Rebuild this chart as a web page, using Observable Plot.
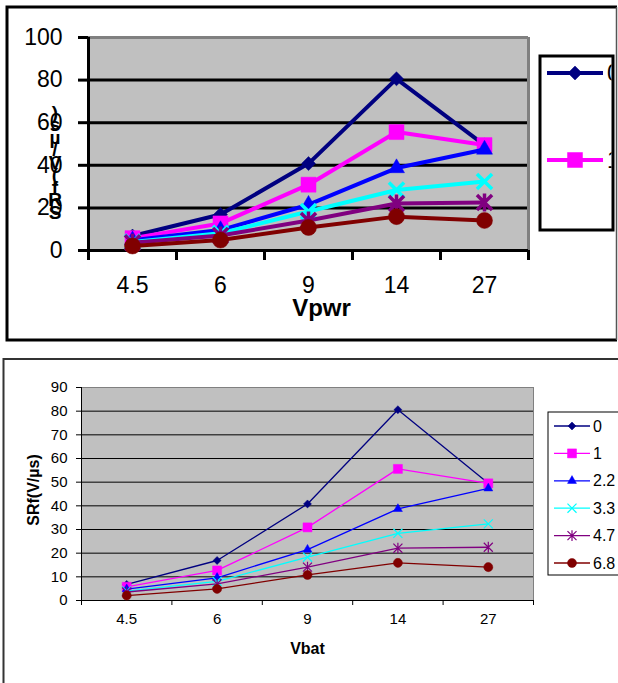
<!DOCTYPE html>
<html><head><meta charset="utf-8">
<script src="https://cdn.jsdelivr.net/npm/d3@7"></script>
<script src="https://cdn.jsdelivr.net/npm/@observablehq/plot@0.6"></script>
<style>
html,body{margin:0;padding:0;background:#fff;}
#wrap{position:relative;width:618px;height:683px;overflow:hidden;background:#fff;font-family:Arial,"Liberation Sans",sans-serif;}
#wrap svg{position:absolute;left:0;background:transparent;overflow:visible;}
</style></head><body><div id="wrap"></div>
<script>
// ---- data ----
const categories = ["4.5", "6", "9", "14", "27"];
const seriesNames = ["0", "1", "2.2", "3.3", "4.7", "6.8"];
const sr0  = [6.8, 16.9, 40.8, 80.6, 49.5];
const sr1  = [5.8, 12.7, 30.9, 55.6, 49.5];
const sr22 = [4.8, 9.6, 21.5, 38.7, 47.4];
const sr33 = [4.0, 8.1, 18.3, 28.4, 32.4];
const sr47 = [3.6, 7.0, 14.1, 22.1, 22.5];
const sr68 = [2.1, 4.9, 10.8, 15.9, 14.1];
const topYTicks = [0, 20, 40, 60, 80, 100];
const bottomYTicks = [0, 10, 20, 30, 40, 50, 60, 70, 80, 90];
const topXTitle = "Vpwr";
const bottomXTitle = "Vbat";
const yTitle = "SRf(V/µs)";

const seriesValues = [sr0, sr1, sr22, sr33, sr47, sr68];
const colors = ["#000080", "#FF00FF", "#0000FF", "#00FFFF", "#800080", "#800000"];
const rows = seriesNames.flatMap((s, si) => seriesValues[si].map((v, i) => ({series: s, si, xi: i, v})));

const asterisk = {draw(ctx, size) {
  const r = Math.sqrt(size - Math.min(size / 6, 1.7)) * 0.6189;
  ctx.moveTo(-r, -r); ctx.lineTo(r, r);
  ctx.moveTo(-r, r); ctx.lineTo(r, -r);
  ctx.moveTo(0, -r * 1.2); ctx.lineTo(0, r * 1.2);
}};
const symbolTypes = [d3.symbolDiamond2, d3.symbolSquare, d3.symbolTriangle, d3.symbolTimes, asterisk, d3.symbolCircle];
const filled = [true, true, true, false, false, true];
const FONT = "Arial, 'Liberation Sans', sans-serif";

function chart(c) {
  const frameW = 618 - c.ml - c.mr, frameH = c.height - c.mt - c.mb;
  const yMax = c.yTicks[c.yTicks.length - 1];
  const bounds = categories.map((_, i) => i - 0.5).concat([categories.length - 0.5]);
  const marks = [
    Plot.frame({fill: "#c0c0c0", stroke: "none"}),
    Plot.ruleY(c.yTicks.slice(1, -1), {y: d => d, stroke: "black", strokeWidth: c.gridW}),
    Plot.ruleY([yMax], {y: d => d, stroke: "#808080", strokeWidth: c.gridW}),
    Plot.ruleX([categories.length - 0.5], {x: d => d, stroke: "#808080", strokeWidth: c.gridW}),
    Plot.ruleX([-0.5], {x: d => d, stroke: "black", strokeWidth: c.axisW}),
    Plot.ruleY([0], {y: d => d, stroke: "black", strokeWidth: c.axisW}),
    Plot.ruleY(c.yTicks, {y: d => d, stroke: "black", strokeWidth: c.axisW, insetRight: frameW - c.tick, dx: -c.tick}),
    Plot.ruleX(bounds, {x: d => d, stroke: "black", strokeWidth: c.axisW, insetTop: frameH - c.tick, dy: c.tick}),
    Plot.text(c.yTicks, {y: d => d, text: d => String(d), frameAnchor: "left", textAnchor: "end", dx: -(c.tick + c.pad), fontSize: c.fs, fill: "black"}),
    Plot.text(categories, {x: (d, i) => i, text: d => d, frameAnchor: "bottom", dy: c.xlDy, fontSize: c.fs, fill: "black"}),
    Plot.text([c.xTitle], {text: d => d, frameAnchor: "bottom", dy: c.xtDy, dx: c.xtDx, fontSize: c.tfs, fontWeight: "bold", fill: "black"})
  ];
  seriesNames.forEach((s, si) => {
    const d = rows.filter(r => r.si === si);
    marks.push(Plot.line(d, {x: "xi", y: "v", stroke: colors[si], strokeWidth: c.lineW}));
    marks.push(Plot.dot(d, {x: "xi", y: "v", symbol: symbolTypes[si], r: Math.sqrt(c.sizes[si] / Math.PI),
      fill: filled[si] ? colors[si] : "none", stroke: colors[si], strokeWidth: filled[si] ? 0.5 : c.msw}));
  });
  return Plot.plot({
    width: 618, height: c.height,
    marginLeft: c.ml, marginRight: c.mr, marginTop: c.mt, marginBottom: c.mb,
    x: {type: "linear", domain: [-0.5, categories.length - 0.5], axis: null},
    y: {type: "linear", domain: [0, yMax], axis: null},
    style: {background: "transparent", fontFamily: FONT, overflow: "visible"},
    marks
  });
}

function legend(svg, c) {
  const g = svg.append("g");
  g.append("rect").attr("x", c.x).attr("y", c.y).attr("width", c.w).attr("height", c.h)
    .attr("fill", "white").attr("stroke", "black").attr("stroke-width", c.bw);
  let tg = g;
  if (c.clip) {
    svg.append("defs").append("clipPath").attr("id", c.clip).append("rect")
      .attr("x", c.x).attr("y", c.y).attr("width", c.w - c.bw / 2).attr("height", c.h);
    tg = g.append("g").attr("clip-path", `url(#${c.clip})`);
  }
  c.items.forEach((si, k) => {
    const yy = c.y0 + k * c.step;
    g.append("line").attr("x1", c.lx1).attr("x2", c.lx2).attr("y1", yy).attr("y2", yy)
      .attr("stroke", colors[si]).attr("stroke-width", c.lineW);
    g.append("path").attr("transform", `translate(${(c.lx1 + c.lx2) / 2},${yy})`)
      .attr("d", d3.symbol(symbolTypes[si], c.sizes[si])())
      .attr("fill", filled[si] ? colors[si] : "none").attr("stroke", colors[si])
      .attr("stroke-width", filled[si] ? 0.5 : c.msw);
    tg.append("text").attr("x", c.tx).attr("y", yy).attr("dy", "0.35em").attr("text-anchor", "start")
      .attr("font-size", c.fs).attr("font-family", FONT).attr("fill", "black").text(seriesNames[si]);
  });
}

const wrap = document.getElementById("wrap");

// ---- top panel ----
const topSizes = [125, 225, 111, 150, 150, 201];
const topSvg = chart({height: 343, ml: 88, mr: 90, mt: 37, mb: 93, yTicks: topYTicks, tick: 10, pad: 16, fs: 23,
  axisW: 3, gridW: 3, lineW: 4, xlDy: 42, xtDy: 65, xtDx: 13, tfs: 24, xTitle: topXTitle, sizes: topSizes, msw: 3.5});
topSvg.style.top = "0px";
wrap.appendChild(topSvg);
const ts = d3.select(topSvg);
ts.append("path").attr("d", "M617,7H7V340H617").attr("fill", "none").attr("stroke", "black").attr("stroke-width", 3);
ts.append("line").attr("x1", 616.5).attr("x2", 616.5).attr("y1", 7).attr("y2", 340).attr("stroke", "#555").attr("stroke-width", 1.5);
const stack = ts.append("g").attr("font-family", FONT).attr("font-weight", "bold").attr("font-size", 19).attr("fill", "black");
[...yTitle].forEach((ch, i) => {
  stack.append("text").attr("x", 55).attr("y", 212 - i * 12.5).attr("dy", "0.35em").attr("text-anchor", "middle").text(ch);
});
legend(ts, {x: 540, y: 56, w: 73, h: 174, bw: 3, clip: "legclip", items: [0, 1], y0: 73, step: 87,
  lx1: 547, lx2: 603, tx: 607, fs: 23, lineW: 4, sizes: topSizes, msw: 3.5});

// ---- bottom panel ----
const botSizes = [41, 81, 35, 55, 55, 64];
const botSvg = chart({height: 340, ml: 81, mr: 85, mt: 44, mb: 83, yTicks: bottomYTicks, tick: 5, pad: 9, fs: 15,
  axisW: 1, gridW: 1, lineW: 1.3, xlDy: 23, xtDy: 53, xtDx: 0, tfs: 16, xTitle: bottomXTitle, sizes: botSizes, msw: 1.2});
botSvg.style.top = "343px";
wrap.appendChild(botSvg);
const bs = d3.select(botSvg);
bs.append("rect").attr("x", 3.5).attr("y", 16).attr("width", 700).attr("height", 700)
  .attr("fill", "none").attr("stroke", "#333").attr("stroke-width", 2);
bs.append("text").attr("transform", "translate(33,147) rotate(-90)").attr("text-anchor", "middle").attr("dy", "0.35em")
  .attr("font-family", FONT).attr("font-weight", "bold").attr("font-size", 16).attr("fill", "black").text(yTitle);
legend(bs, {x: 548, y: 69, w: 100, h: 163, bw: 1, items: [0, 1, 2, 3, 4, 5], y0: 83, step: 27.4,
  lx1: 554, lx2: 590, tx: 593, fs: 16, lineW: 1.3, sizes: botSizes, msw: 1.2});
</script></body></html>
